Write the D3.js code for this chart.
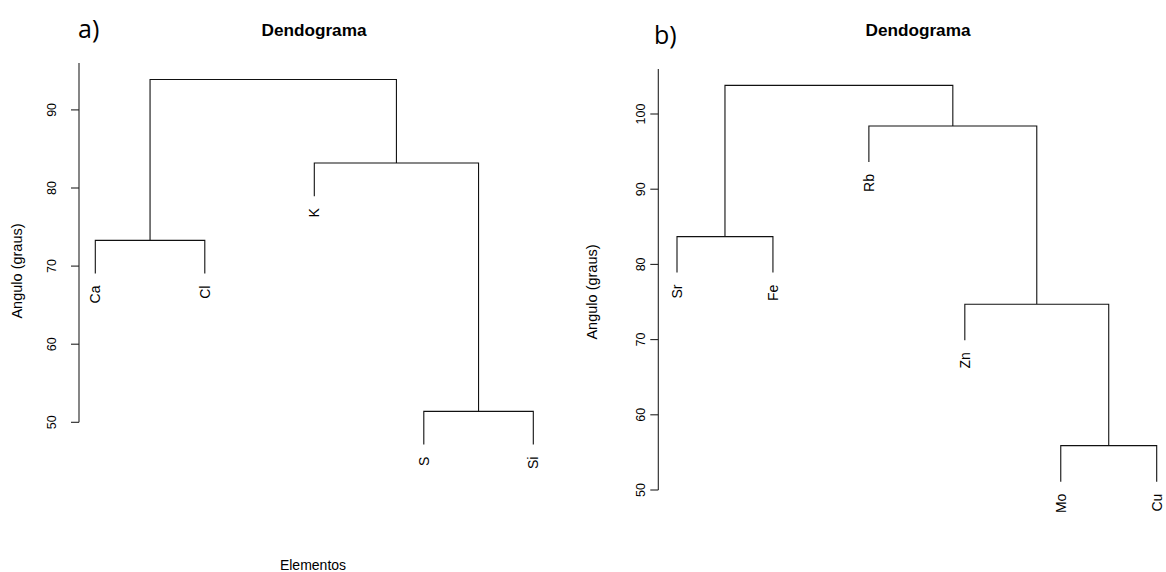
<!DOCTYPE html>
<html><head><meta charset="utf-8">
<script src="https://cdn.jsdelivr.net/npm/d3@7"></script>
<style>
html,body{margin:0;padding:0;background:#fff;}
svg{display:block;font-family:"Liberation Sans",Arial,sans-serif;}
</style></head>
<body><svg id="c" width="1166" height="572"></svg>
<script>
// ---- Data (panel a) ----
const leavesA = ["Ca","Cl","K","S","Si"];
// R-style merge matrix: negative = leaf index (1-based), positive = earlier merge (1-based)
const mergesA = [[-1,-2],[-4,-5],[-3,2],[1,3]];
const heightsA = [73.3, 51.4, 83.2, 93.9];
const ticksA = [50,60,70,80,90];

// ---- Data (panel b) ----
const leavesB = ["Sr","Fe","Rb","Zn","Mo","Cu"];
const mergesB = [[-1,-2],[-5,-6],[-4,2],[-3,3],[1,4]];
const heightsB = [83.7, 55.9, 74.7, 98.4, 103.8];
const ticksB = [50,60,70,80,90,100];

const svg = d3.select("#c");

function dendro(cfg){
  const g = svg.append("g");
  const x = d3.scalePoint().domain(cfg.leaves).range(cfg.xRange);
  const y = d3.scaleLinear().domain([50, cfg.yTop]).range(cfg.yRange);
  const hMin = d3.min(cfg.heights), hMax = d3.max(cfg.heights);
  const hang = 0.1 * (hMax - hMin);

  const nodes = [];
  function info(id, parentH){
    if (id < 0) {
      const name = cfg.leaves[-id-1];
      return {x: x(name), top: parentH - hang, leaf: name};
    }
    const m = nodes[id-1];
    return {x: m.x, top: m.h};
  }
  cfg.merges.forEach((m,i)=>{
    const h = cfg.heights[i];
    const a = info(m[0], h), b = info(m[1], h);
    nodes.push({x:(a.x+b.x)/2, h, a, b});
  });

  const path = d3.path();
  nodes.forEach(n=>{
    path.moveTo(n.a.x, y(n.a.top));
    path.lineTo(n.a.x, y(n.h));
    path.lineTo(n.b.x, y(n.h));
    path.lineTo(n.b.x, y(n.b.top));
    [n.a,n.b].forEach(c=>{
      if (c.leaf){
        g.append("text")
          .attr("transform",`translate(${c.x},${y(c.top)+12}) rotate(-90)`)
          .attr("text-anchor","end").attr("dy","0.35em")
          .attr("font-size",14).attr("fill","#000").text(c.leaf);
      }
    });
  });
  g.append("path").attr("d",path.toString()).attr("fill","none")
    .attr("stroke","#111").attr("stroke-width",1.1);

  // y axis
  const ax = g.append("g");
  ax.append("line").attr("x1",cfg.axisX).attr("x2",cfg.axisX)
    .attr("y1",y(50)).attr("y2",y(cfg.axisTop)).attr("stroke","#222").attr("stroke-width",1.1);
  cfg.ticks.forEach(t=>{
    ax.append("line").attr("x1",cfg.axisX-8).attr("x2",cfg.axisX)
      .attr("y1",y(t)).attr("y2",y(t)).attr("stroke","#222").attr("stroke-width",1.1);
    ax.append("text").attr("transform",`translate(${cfg.tickLabelX},${y(t)}) rotate(-90)`)
      .attr("text-anchor","middle").attr("dy","0.35em").attr("font-size",12.5)
      .attr("fill","#000").text(t);
  });
  g.append("text").attr("transform",`translate(${cfg.ylabX},${cfg.ylabY}) rotate(-90)`)
    .attr("text-anchor","middle").attr("dy","0.35em").attr("font-size",14.5)
    .attr("fill","#000").text("Angulo (graus)");
  g.append("text").attr("x",cfg.titleX).attr("y",35.5).attr("text-anchor","middle")
    .attr("font-weight","bold").attr("font-size",17.2).attr("fill","#000").text("Dendograma");
  g.append("text").attr("x",cfg.tagX).attr("y",cfg.tagY)
    .attr("font-family","'Open Sans','Noto Sans',sans-serif").attr("font-size",25)
    .attr("fill","#000").text(cfg.tag);
}

dendro({leaves:leavesA, merges:mergesA, heights:heightsA, ticks:ticksA,
  xRange:[95.3,533.3], yTop:90, yRange:[422.3,109.9], axisTop:96, axisX:79,
  tickLabelX:52, ylabX:17, ylabY:271, titleX:314, tag:"a)", tagX:78, tagY:38});

dendro({leaves:leavesB, merges:mergesB, heights:heightsB, ticks:ticksB,
  xRange:[677,1156.7], yTop:100, yRange:[490,114], axisTop:106, axisX:658.3,
  tickLabelX:641, ylabX:592, ylabY:292, titleX:918, tag:"b)", tagX:654, tagY:44});

svg.append("text").attr("x",313).attr("y",570).attr("text-anchor","middle")
  .attr("font-size",14).attr("fill","#000").text("Elementos");
</script></body></html>
